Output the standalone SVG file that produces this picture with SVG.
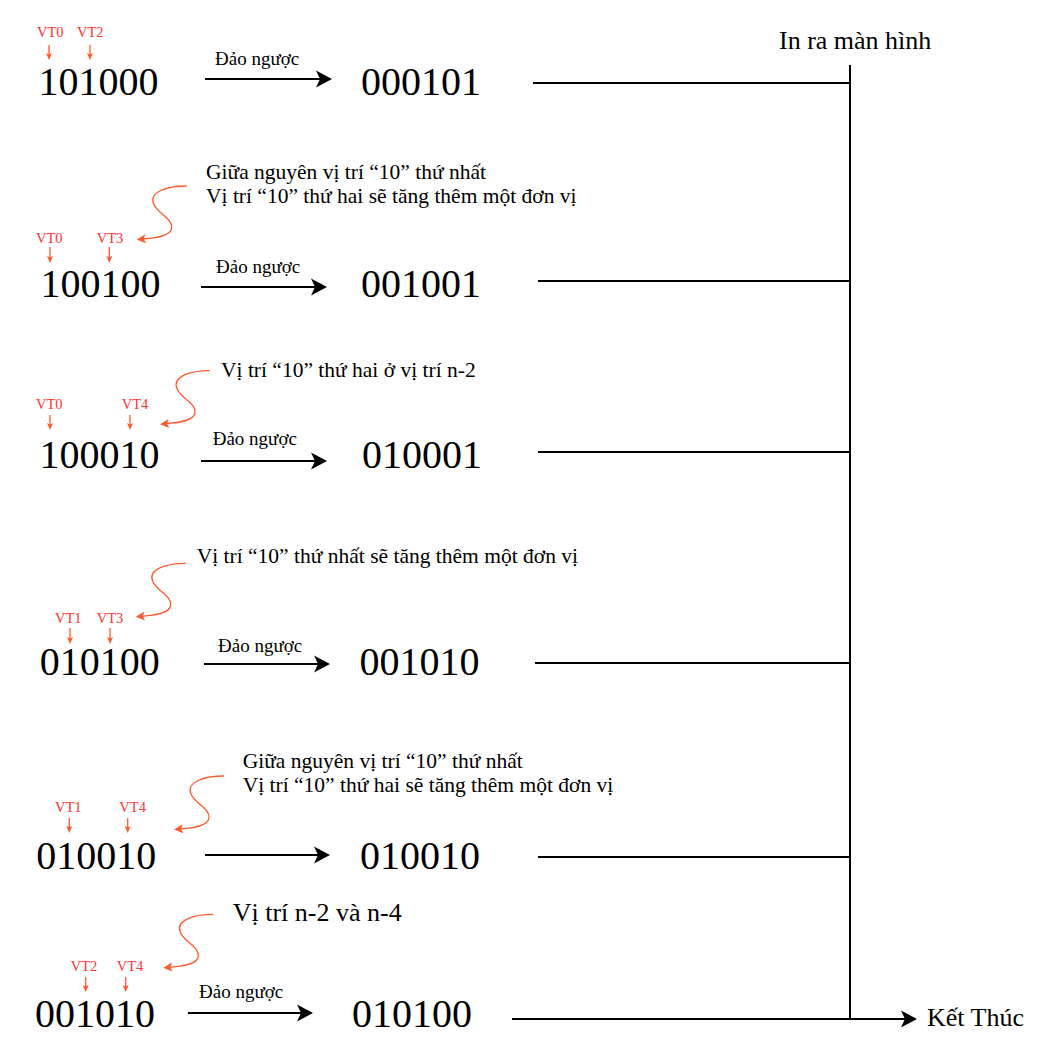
<svg xmlns="http://www.w3.org/2000/svg" width="1056" height="1064" viewBox="0 0 1056 1064" font-family="'Liberation Serif', 'Times New Roman', Times, serif">
<style>
text{font-family:"Liberation Serif","Times New Roman",Times,serif;fill:#000}
.num{font-size:40px}
.vt{font-size:14.5px;fill:#FF3333}
.op{font-size:19px}
.note{font-size:21.5px}
.big{font-size:26px}
.ln{stroke:#000;stroke-width:2;fill:none}
.arr{stroke:#000;stroke-width:2;fill:none;marker-end:url(#ah)}
.sm{stroke:#FF5A2E;stroke-width:1.3;fill:none;marker-end:url(#sh)}
.cv{stroke:#FF5A2E;stroke-width:1.3;fill:none;marker-end:url(#ch)}
</style>
<defs>
<marker id="ah" markerUnits="userSpaceOnUse" viewBox="-11 -9 18 18" refX="0" refY="0" markerWidth="18" markerHeight="18" orient="auto"><path d="M6,0 L-10,-8.5 L-6,0 L-10,8.5 Z" fill="#000"/></marker>
<marker id="sh" markerUnits="userSpaceOnUse" viewBox="-4 -4 9 8" refX="0" refY="0" markerWidth="9" markerHeight="8" orient="auto"><path d="M4,0 L-3,-3 L-1.5,0 L-3,3 Z" fill="#FF5A2E"/></marker>
<marker id="ch" markerUnits="userSpaceOnUse" viewBox="-4 -5 11 10" refX="0" refY="0" markerWidth="11" markerHeight="10" orient="auto"><path d="M6,0 L-3,-4.5 L-1,0 L-3,4.5 Z" fill="#FF5A2E"/></marker>
</defs>

<g id="connectors">
  <line class="ln" x1="850" y1="65" x2="850" y2="1019"/>
  <line class="ln" x1="533" y1="83" x2="850" y2="83"/>
  <line class="ln" x1="538" y1="281" x2="850" y2="281"/>
  <line class="ln" x1="538" y1="452" x2="850" y2="452"/>
  <line class="ln" x1="535" y1="663" x2="850" y2="663"/>
  <line class="ln" x1="538" y1="857" x2="850" y2="857"/>
  <line class="arr" x1="512" y1="1019" x2="911" y2="1019"/>
  <line class="arr" x1="205" y1="79" x2="326" y2="79"/>
  <line class="arr" x1="201" y1="287" x2="321" y2="287"/>
  <line class="arr" x1="201" y1="461" x2="321" y2="461"/>
  <line class="arr" x1="204" y1="664" x2="324" y2="664"/>
  <line class="arr" x1="205" y1="855" x2="324" y2="855"/>
  <line class="arr" x1="188" y1="1013" x2="307" y2="1013"/>
  <line class="sm" x1="49" y1="45" x2="49" y2="56"/>
  <line class="sm" x1="90" y1="45" x2="90" y2="56"/>
  <line class="sm" x1="50" y1="247" x2="50" y2="259"/>
  <line class="sm" x1="109.3" y1="247" x2="109.3" y2="259"/>
  <line class="sm" x1="50" y1="415" x2="50" y2="426"/>
  <line class="sm" x1="130" y1="415" x2="130" y2="426"/>
  <line class="sm" x1="70" y1="628" x2="70" y2="640"/>
  <line class="sm" x1="110" y1="628" x2="110" y2="640"/>
  <line class="sm" x1="69.3" y1="818" x2="69.3" y2="829"/>
  <line class="sm" x1="127.7" y1="818" x2="127.7" y2="829"/>
  <line class="sm" x1="85.7" y1="977" x2="85.7" y2="988"/>
  <line class="sm" x1="125.7" y1="977" x2="125.7" y2="988"/>
  <path class="cv" transform="translate(186.7,186)" d="M0,0 C-20,0 -38,6 -33,18 C-29,28 -14,32 -15,42 C-16,50 -30,52 -44,53"/>
  <path class="cv" transform="translate(210,370.7)" d="M0,0 C-20,0 -38,6 -33,18 C-29,28 -14,32 -15,42 C-16,50 -30,52 -44,53"/>
  <path class="cv" transform="translate(185.7,563.3)" d="M0,0 C-20,0 -38,6 -33,18 C-29,28 -14,32 -15,42 C-16,50 -30,52 -44,53"/>
  <path class="cv" transform="translate(224,776)" d="M0,0 C-20,0 -38,6 -33,18 C-29,28 -14,32 -15,42 C-16,50 -30,52 -44,53"/>
  <path class="cv" transform="translate(213.3,914.3)" d="M0,0 C-20,0 -38,6 -33,18 C-29,28 -14,32 -15,42 C-16,50 -30,52 -44,53"/>
</g>

<g id="print-label"><text class="big" x="779" y="49">In ra màn hình</text></g>
<g id="end-label"><text class="big" x="927" y="1026">Kết Thúc</text></g>

<g id="step1">
  <text class="vt" x="37" y="37">VT0</text>
  <text class="vt" x="77" y="37">VT2</text>
  <text class="num" x="38.6" y="95">101000</text>
  <text class="op" x="215" y="65">Đảo ngược</text>
</g>
<g id="result1"><text class="num" x="361" y="95">000101</text></g>

<g id="note2">
  <text class="note" x="206" y="179">Giữa nguyên vị trí “10” thứ nhất</text>
  <text class="note" x="206" y="203">Vị trí “10” thứ hai sẽ tăng thêm một đơn vị</text>
</g>
<g id="step2">
  <text class="vt" x="36" y="242.7">VT0</text>
  <text class="vt" x="96.7" y="242.7">VT3</text>
  <text class="num" x="40.6" y="297">100100</text>
  <text class="op" x="216" y="273">Đảo ngược</text>
</g>
<g id="result2"><text class="num" x="361" y="297">001001</text></g>

<g id="note3">
  <text class="note" x="221" y="376.7">Vị trí “10” thứ hai ở vị trí n-2</text>
</g>
<g id="step3">
  <text class="vt" x="36" y="409">VT0</text>
  <text class="vt" x="121.7" y="409">VT4</text>
  <text class="num" x="39.6" y="468">100010</text>
  <text class="op" x="212.7" y="445">Đảo ngược</text>
</g>
<g id="result3"><text class="num" x="362" y="468">010001</text></g>

<g id="note4">
  <text class="note" x="196.7" y="563.3">Vị trí “10” thứ nhất sẽ tăng thêm một đơn vị</text>
</g>
<g id="step4">
  <text class="vt" x="55" y="622.7">VT1</text>
  <text class="vt" x="96.7" y="622.7">VT3</text>
  <text class="num" x="39.7" y="675">010100</text>
  <text class="op" x="218" y="651.7">Đảo ngược</text>
</g>
<g id="result4"><text class="num" x="359.6" y="675">001010</text></g>

<g id="note5">
  <text class="note" x="242.7" y="768.3">Giữa nguyên vị trí “10” thứ nhất</text>
  <text class="note" x="242.7" y="791.7">Vị trí “10” thứ hai sẽ tăng thêm một đơn vị</text>
</g>
<g id="step5">
  <text class="vt" x="55" y="811.7">VT1</text>
  <text class="vt" x="119.3" y="811.7">VT4</text>
  <text class="num" x="36.3" y="869">010010</text>
</g>
<g id="result5"><text class="num" x="360" y="869">010010</text></g>

<g id="note6">
  <text class="big" x="232.7" y="921">Vị trí n-2 và n-4</text>
</g>
<g id="step6">
  <text class="vt" x="70.7" y="970.7">VT2</text>
  <text class="vt" x="116.7" y="970.7">VT4</text>
  <text class="num" x="35" y="1027">001010</text>
  <text class="op" x="199" y="998.3">Đảo ngược</text>
</g>
<g id="result6"><text class="num" x="352" y="1027">010100</text></g>
</svg>
